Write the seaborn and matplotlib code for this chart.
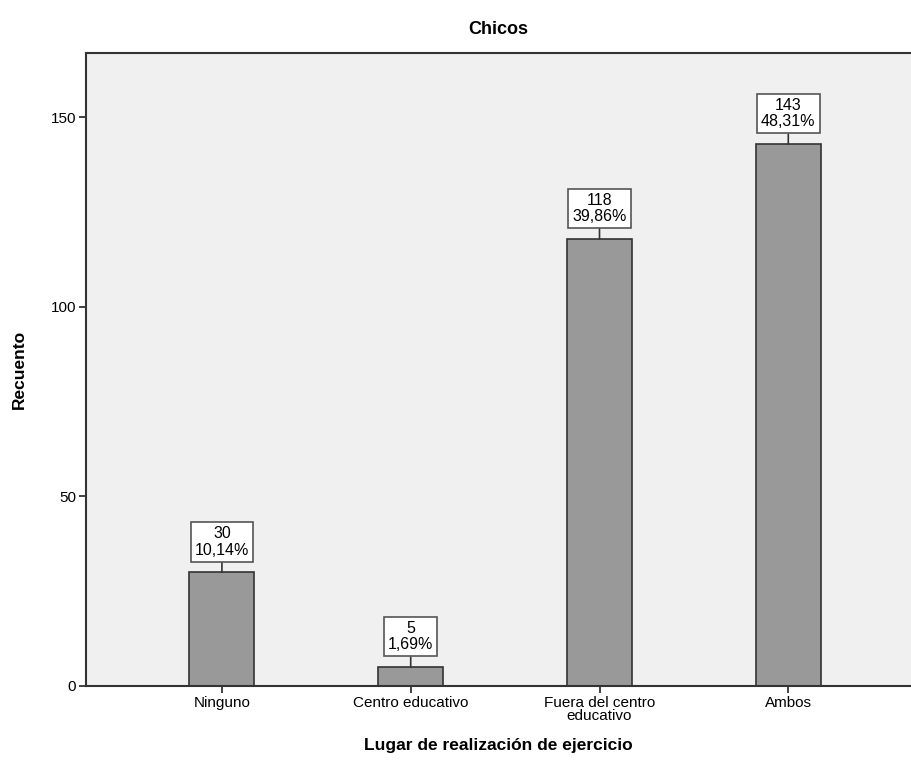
import matplotlib
matplotlib.use("Agg")
import matplotlib.pyplot as plt
import seaborn as sns
import pandas as pd

categories = ["Ninguno", "Centro educativo", "Fuera del centro\neducativo", "Ambos"]
counts = [30, 5, 118, 143]
percents = ["10,14%", "1,69%", "39,86%", "48,31%"]
title = "Chicos"
xlabel = "Lugar de realización de ejercicio"
ylabel = "Recuento"
yticks = [0, 50, 100, 150]

sns.set_theme(style="white")
plt.rcParams['font.family'] = ['Liberation Sans', 'DejaVu Sans']
plt.rcParams.update({"text.color": "black", "axes.labelcolor": "black",
                     "xtick.color": "#222222", "ytick.color": "#222222",
                     "xtick.labelcolor": "black", "ytick.labelcolor": "black"})

df = pd.DataFrame({"cat": categories, "n": counts})

fig = plt.figure(figsize=(9.11, 7.69), dpi=100)
ax = fig.add_axes([0.0944, 0.108, 0.9056, 0.823])
ax.set_facecolor("#F0F0F0")

sns.barplot(data=df, x="cat", y="n", ax=ax, color="#999999", width=0.345,
            edgecolor="#333333", linewidth=1.2, saturation=1)

ax.set_xlim(-0.72, 3.65)
ax.set_ylim(0, 167)
ax.set_yticks(yticks)
ax.set_yticklabels([str(v) for v in yticks], fontsize=11)
ax.set_xticklabels(categories, fontsize=11, linespacing=0.95)
ax.tick_params(axis="both", direction="out", length=5, width=1.2,
               bottom=True, left=True, pad=2)

for s in ["top", "left", "bottom"]:
    ax.spines[s].set_visible(True)
    ax.spines[s].set_color("#333333")
    ax.spines[s].set_linewidth(1.5)
ax.spines["right"].set_visible(False)

for i, (n, p) in enumerate(zip(counts, percents)):
    ax.annotate(f"{n}\n{p}", xy=(i, n), xytext=(0, 10.5), textcoords="offset points",
                ha="center", va="bottom", fontsize=11.5, linespacing=1.1,
                color="black",
                bbox=dict(boxstyle="square,pad=0.25", fc="white", ec="#555555", lw=1.2),
                arrowprops=dict(arrowstyle="-", color="#333333", lw=1.2,
                                shrinkA=0, shrinkB=0))

ax.set_title(title, fontsize=13, fontweight="bold", pad=14)
ax.set_xlabel(xlabel, fontsize=12.5, fontweight="bold", labelpad=11)
ax.set_ylabel(ylabel, fontsize=12.5, fontweight="bold")
ax.yaxis.set_label_coords(-0.072, 0.5)

fig.savefig("out.png", dpi=100)
